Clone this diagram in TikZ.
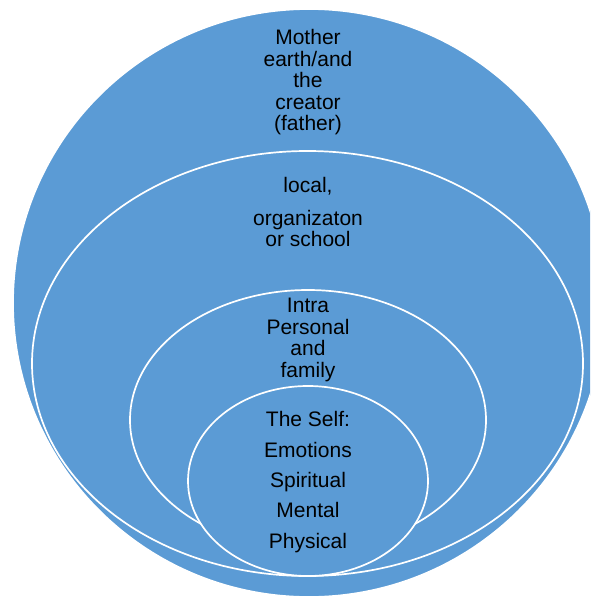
\documentclass[tikz,border=0pt]{standalone}
\usepackage{fontspec}
\setmainfont{Liberation Sans}
\definecolor{ringblue}{RGB}{91,155,213}
\begin{document}
\begin{tikzpicture}[x=1pt,y=-1pt,
  ring/.style={fill=ringblue,draw=white,line width=1.7pt},
  label/.style={anchor=base,align=center,inner sep=0pt,text=black},
  lbl/.style={label,font=\fontsize{21}{21.5}\selectfont},
  selflbl/.style={label,font=\fontsize{21}{30.4}\selectfont}]
  \useasboundingbox (0,0) rectangle (590,597);
  \clip (0,0) rectangle (590,597);
  % nested circles, outermost first
  \path[ring] (309,303) ellipse [x radius=296, y radius=294];
  \path[ring] (307.5,363.5) ellipse [x radius=275.5, y radius=212.5];
  \path[ring] (308,420) ellipse [x radius=178, y radius=130];
  \path[ring] (308,481) ellipse [x radius=120, y radius=95];
  % labels, each placed by the baseline of its last line
  \node[lbl] (earth) at (308,130.8) {Mother\\earth/and\\the\\creator\\(father)};
  \node[label,font=\fontsize{21}{20.5}\selectfont] (local) at (308,246) {local,\\[12.5pt]organizaton\\or school};
  \node[lbl] (intra) at (308,377.3) {Intra\\Personal\\and\\family};
  \node[selflbl] (self) at (308,548.3) {The Self:\\Emotions\\Spiritual\\Mental\\Physical};
\end{tikzpicture}
\end{document}
